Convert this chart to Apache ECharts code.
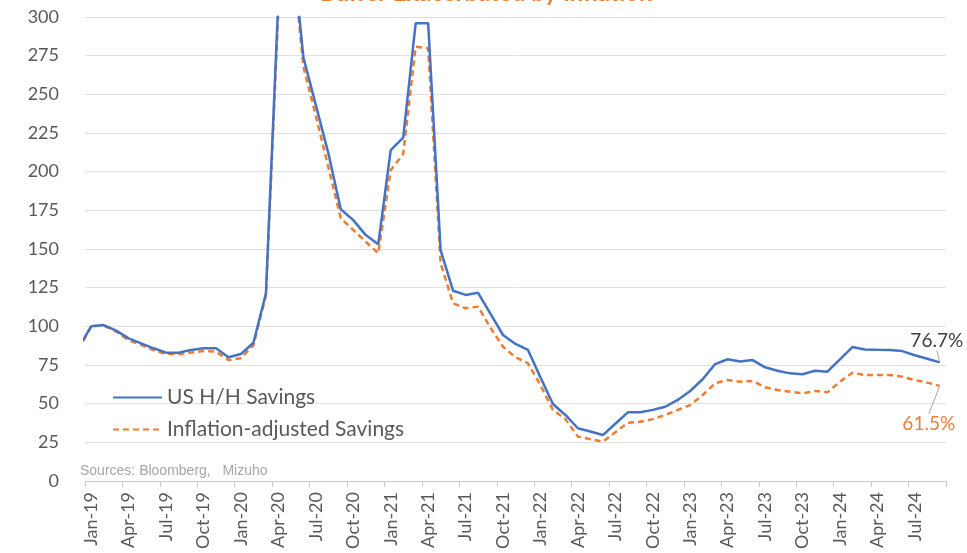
<!DOCTYPE html>
<html>
<head>
<meta charset="utf-8">
<script src="https://cdn.jsdelivr.net/npm/echarts@6/dist/echarts.min.js"></script>
<style>
  html, body { margin: 0; padding: 0; background: #ffffff; }
  #chart { width: 967px; height: 553px; }
</style>
</head>
<body>
<div id="chart"></div>
<script>
// Monthly categories, Jan-19 .. Sep-24
const months = [
  'Jan-19','Feb-19','Mar-19','Apr-19','May-19','Jun-19','Jul-19','Aug-19','Sep-19','Oct-19','Nov-19','Dec-19',
  'Jan-20','Feb-20','Mar-20','Apr-20','May-20','Jun-20','Jul-20','Aug-20','Sep-20','Oct-20','Nov-20','Dec-20',
  'Jan-21','Feb-21','Mar-21','Apr-21','May-21','Jun-21','Jul-21','Aug-21','Sep-21','Oct-21','Nov-21','Dec-21',
  'Jan-22','Feb-22','Mar-22','Apr-22','May-22','Jun-22','Jul-22','Aug-22','Sep-22','Oct-22','Nov-22','Dec-22',
  'Jan-23','Feb-23','Mar-23','Apr-23','May-23','Jun-23','Jul-23','Aug-23','Sep-23','Oct-23','Nov-23','Dec-23',
  'Jan-24','Feb-24','Mar-24','Apr-24','May-24','Jun-24','Jul-24','Aug-24','Sep-24'
];

// Dec-18 readings (sit just left of the axis start and get clipped)
const savingsDec18 = 86.5;
const realSavingsDec18 = 85;

// US household savings, indexed (Jan-19 = 100)
const savings = [
  100, 100.8, 97.2, 92.2, 89, 85.8, 83, 83, 84.7, 85.8, 85.8, 80,
  82.1, 89.4, 121.4, 312, 355, 274, 243, 212, 175.7, 168.7, 159, 153,
  214, 222, 296, 296, 149.3, 123, 120.3, 121.7, 108, 94.4, 88.6, 84.7,
  67, 49.8, 42.7, 34.1, 32, 29.7, 37, 44.4, 44.4, 46, 48, 52.4,
  58.2, 65.8, 75.6, 78.7, 77.2, 78.2, 73.5, 71.3, 69.6, 69, 71.3, 70.7,
  78.7, 86.6, 85, 84.8, 84.7, 84, 81.3, 79, 76.7
];

// Inflation-adjusted savings, same index base
const realSavings = [
  100, 100.5, 96.5, 91, 88, 84.5, 82.1, 82, 83, 84, 83.6, 78.2,
  79.3, 87.9, 120, 305, 350, 268, 236, 203, 169.8, 162.3, 154.7, 147.2,
  201, 211.4, 280.8, 279.8, 140.7, 114.9, 111.7, 112.7, 99, 86.8, 80, 76.1,
  62, 46, 40, 28.7, 27, 25.4, 31.5, 37.7, 38.3, 40, 42.7, 45.9,
  49.1, 55.6, 63.2, 65.3, 64.2, 64.7, 60.6, 58.8, 57.7, 56.7, 58.2, 57.3,
  64.2, 70, 68.5, 68.5, 68.5, 67.4, 65.3, 63.6, 61.5
];

const seriesNames = ['US H/H Savings', 'Inflation-adjusted Savings'];
const yTicks = { min: 0, max: 300, step: 25 };

const BLUE = '#4472C4';
const ORANGE = '#ED7D31';
const AXIS_TEXT = '#595959';
const FONT = 'Lato, "Noto Sans", sans-serif';
const HIDDEN = 'rgba(0,0,0,0)';

// Points sit in the middle of each month band: x = monthIndex + 0.5
function toPoints(lead, values, endLabel) {
  const pts = [[-0.5, lead]];
  values.forEach((v, i) => {
    if (i === values.length - 1) {
      pts.push({ value: [i + 0.5, v], label: endLabel });
    } else {
      pts.push([i + 0.5, v]);
    }
  });
  return pts;
}

const chart = echarts.init(document.getElementById('chart'), null, { renderer: 'canvas' });

chart.setOption({
  animation: false,
  backgroundColor: '#ffffff',
  title: [
    {
      text: 'Buffer Exacerbated by Inflation',
      left: 320,
      top: -20,
      padding: 0,
      textStyle: { color: ORANGE, fontSize: 24, fontWeight: 'bold', fontFamily: FONT, lineHeight: 26 }
    },
    {
      text: 'Sources: Bloomberg,   Mizuho',
      left: 80,
      top: 464,
      padding: 0,
      textStyle: { color: '#a6a6a6', fontSize: 14, fontWeight: 'normal', fontFamily: '"Liberation Sans", Arial, sans-serif' }
    }
  ],
  grid: { left: 85, right: 21, top: 17, bottom: 72, containLabel: false },
  legend: {
    orient: 'vertical',
    left: 112,
    top: 387,
    padding: 0,
    itemWidth: 49,
    itemHeight: 20,
    itemGap: 11,
    itemStyle: { opacity: 0 },
    data: seriesNames,
    textStyle: { color: AXIS_TEXT, fontSize: 21, fontFamily: FONT, lineHeight: 20 }
  },
  xAxis: [
    {
      type: 'category',
      data: months,
      boundaryGap: true,
      axisLine: { lineStyle: { color: '#c9c9c9', width: 1 } },
      axisTick: { show: true, interval: 2, length: 6, lineStyle: { color: '#c9c9c9' } },
      axisLabel: { interval: 2, rotate: 90, margin: 11, color: AXIS_TEXT, fontSize: 18, fontFamily: FONT },
      splitLine: { show: false }
    },
    {
      type: 'value',
      min: 0,
      max: months.length,
      show: false
    }
  ],
  yAxis: {
    type: 'value',
    min: yTicks.min,
    max: yTicks.max,
    interval: yTicks.step,
    axisLine: { show: false },
    axisTick: { show: false },
    axisLabel: { margin: 26, color: AXIS_TEXT, fontSize: 18, fontFamily: FONT },
    splitLine: { lineStyle: { color: '#e0e0e0', width: 1 } }
  },
  series: [
    {
      name: seriesNames[0],
      type: 'line',
      xAxisIndex: 1,
      yAxisIndex: 0,
      clip: true,
      symbol: 'circle',
      symbolSize: 2,
      showSymbol: true,
      z: 3,
      lineStyle: { color: BLUE, width: 2.5 },
      itemStyle: { color: HIDDEN, borderWidth: 0 },
      labelLine: { show: true, lineStyle: { color: '#a6a6a6', width: 1 } },
      labelLayout: { dx: -3, dy: -6 },
      data: toPoints(savingsDec18, savings, {
        show: true,
        position: 'top',
        distance: 5,
        opacity: 1,
        formatter: savings[savings.length - 1].toFixed(1) + '%',
        color: '#404040',
        fontSize: 19,
        fontFamily: FONT
      })
    },
    {
      name: seriesNames[1],
      type: 'line',
      xAxisIndex: 1,
      yAxisIndex: 0,
      clip: true,
      symbol: 'circle',
      symbolSize: 2,
      showSymbol: true,
      z: 2,
      lineStyle: { color: ORANGE, width: 2.5, type: [6, 4] },
      itemStyle: { color: HIDDEN, borderWidth: 0 },
      labelLine: { show: true, lineStyle: { color: '#a6a6a6', width: 1 } },
      labelLayout: { dx: -11, dy: 22 },
      data: toPoints(realSavingsDec18, realSavings, {
        show: true,
        position: 'bottom',
        distance: 5,
        opacity: 1,
        formatter: realSavings[realSavings.length - 1].toFixed(1) + '%',
        color: ORANGE,
        fontSize: 19,
        fontFamily: FONT
      })
    }
  ]
});
</script>
</body>
</html>
